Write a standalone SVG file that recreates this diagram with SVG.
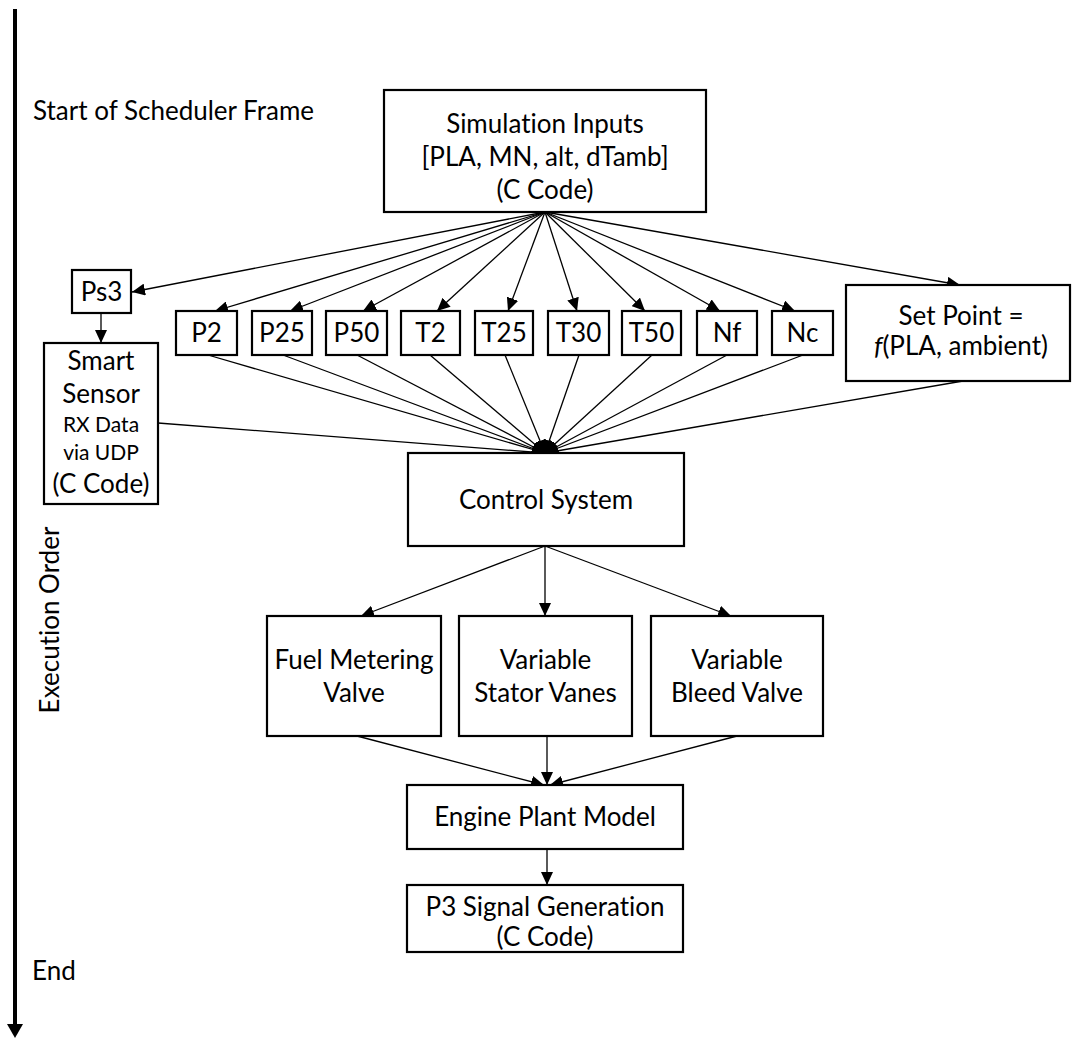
<svg xmlns="http://www.w3.org/2000/svg" width="1074" height="1038" viewBox="0 0 1074 1038">
  <defs>
    <marker id="arrow" viewBox="0 0 13 12" markerWidth="13" markerHeight="12" refX="13" refY="6" orient="auto" markerUnits="userSpaceOnUse">
      <path d="M0,0 L13,6 L0,12 z" fill="#000"/>
    </marker>
    <style>
      .box { fill: #fff; stroke: #000; stroke-width: 2.2; }
      .wire { fill: none; stroke: #000; stroke-width: 1.3; }
      .arr { marker-end: url(#arrow); }
      text { font-family: Lato, "Open Sans", "Liberation Sans", sans-serif; font-size: 26px; fill: #000; font-variant-ligatures: none; }
      .c { text-anchor: middle; }
      .small { font-size: 21px; }
    </style>
  </defs>

  <rect width="1074" height="1038" fill="#fff"/>

  <!-- execution timeline -->
  <g id="timeline">
    <line x1="15" y1="9" x2="15" y2="1026" stroke="#000" stroke-width="4"/>
    <polygon points="7,1024 23,1024 15,1038" fill="#000"/>
    <text x="33" y="120">Start of Scheduler Frame</text>
    <text class="c" transform="translate(59,620) rotate(-90)">Execution Order</text>
    <text x="32" y="980">End</text>
  </g>

  <!-- connectors -->
  <g id="connectors">
    <!-- simulation inputs fan-out -->
    <line class="wire arr" x1="545" y1="212" x2="132" y2="292"/>
    <line class="wire arr" x1="545" y1="212" x2="215" y2="311"/>
    <line class="wire arr" x1="545" y1="212" x2="290" y2="311"/>
    <line class="wire arr" x1="545" y1="212" x2="363" y2="311"/>
    <line class="wire arr" x1="545" y1="212" x2="437" y2="311"/>
    <line class="wire arr" x1="545" y1="212" x2="508" y2="311"/>
    <line class="wire arr" x1="545" y1="212" x2="577" y2="311"/>
    <line class="wire arr" x1="545" y1="212" x2="645" y2="311"/>
    <line class="wire arr" x1="545" y1="212" x2="720" y2="311"/>
    <line class="wire arr" x1="545" y1="212" x2="795" y2="311"/>
    <line class="wire arr" x1="545" y1="212" x2="960" y2="285"/>
    <!-- sensor chain -->
    <line class="wire arr" x1="101" y1="313" x2="101" y2="343"/>
    <!-- signals into control system -->
    <line class="wire arr" x1="158" y1="423" x2="545" y2="453"/>
    <line class="wire arr" x1="208" y1="355" x2="545" y2="453"/>
    <line class="wire arr" x1="283" y1="355" x2="545" y2="453"/>
    <line class="wire arr" x1="357" y1="355" x2="545" y2="453"/>
    <line class="wire arr" x1="430" y1="355" x2="545" y2="453"/>
    <line class="wire arr" x1="505" y1="355" x2="545" y2="453"/>
    <line class="wire arr" x1="579" y1="355" x2="545" y2="453"/>
    <line class="wire arr" x1="652" y1="355" x2="545" y2="453"/>
    <line class="wire arr" x1="727" y1="355" x2="545" y2="453"/>
    <line class="wire arr" x1="803" y1="355" x2="545" y2="453"/>
    <line class="wire arr" x1="963" y1="381" x2="545" y2="453"/>
    <!-- control system to actuators -->
    <line class="wire arr" x1="545" y1="546" x2="361" y2="616"/>
    <line class="wire arr" x1="545" y1="546" x2="545" y2="616"/>
    <line class="wire arr" x1="545" y1="546" x2="731" y2="616"/>
    <!-- actuators to plant -->
    <line class="wire arr" x1="357" y1="736" x2="544" y2="785"/>
    <line class="wire arr" x1="547" y1="736" x2="547" y2="785"/>
    <line class="wire arr" x1="737" y1="736" x2="550" y2="785"/>
    <!-- plant to signal generation -->
    <line class="wire arr" x1="547" y1="849" x2="547" y2="885"/>
  </g>

  <g id="sim-inputs">
    <rect class="box" x="384" y="90" width="322" height="122"/>
    <text class="c" x="545" y="133">Simulation Inputs</text>
    <text class="c" x="545" y="166">[PLA, MN, alt, dTamb]</text>
    <text class="c" x="545" y="199">(C Code)</text>
  </g>

  <g id="ps3">
    <rect class="box" x="72" y="270" width="59" height="43"/>
    <text class="c" x="101.5" y="301">Ps3</text>
  </g>

  <g id="smart-sensor">
    <rect class="box" x="44" y="343" width="114" height="161"/>
    <text class="c" x="101" y="370">Smart</text>
    <text class="c" x="101" y="403">Sensor</text>
    <text class="c small" x="101" y="432">RX Data</text>
    <text class="c small" x="101" y="460">via UDP</text>
    <text class="c" x="101" y="493">(C Code)</text>
  </g>

  <g id="p2"><rect class="box" x="176" y="311" width="61" height="44"/><text class="c" x="206.5" y="342">P2</text></g>
  <g id="p25"><rect class="box" x="252" y="311" width="60" height="44"/><text class="c" x="282" y="342">P25</text></g>
  <g id="p50"><rect class="box" x="326" y="311" width="61" height="44"/><text class="c" x="356.5" y="342">P50</text></g>
  <g id="t2"><rect class="box" x="401" y="311" width="59" height="44"/><text class="c" x="430.5" y="342">T2</text></g>
  <g id="t25"><rect class="box" x="475" y="311" width="58" height="44"/><text class="c" x="504" y="342">T25</text></g>
  <g id="t30"><rect class="box" x="548" y="311" width="61" height="44"/><text class="c" x="578.5" y="342">T30</text></g>
  <g id="t50"><rect class="box" x="622" y="311" width="59" height="44"/><text class="c" x="651.5" y="342">T50</text></g>
  <g id="nf"><rect class="box" x="697" y="311" width="60" height="44"/><text class="c" x="727" y="342">Nf</text></g>
  <g id="nc"><rect class="box" x="772" y="311" width="61" height="44"/><text class="c" x="802.5" y="342">Nc</text></g>

  <g id="set-point">
    <rect class="box" x="846" y="285" width="224" height="96"/>
    <text class="c" x="961" y="325">Set Point =</text>
    <text class="c" x="961" y="355"><tspan font-style="italic">f</tspan>(PLA, ambient)</text>
  </g>

  <g id="control-system">
    <rect class="box" x="408" y="453" width="276" height="93"/>
    <text class="c" x="546" y="509">Control System</text>
  </g>

  <g id="fuel-metering-valve">
    <rect class="box" x="267" y="616" width="174" height="120"/>
    <text class="c" x="354" y="669">Fuel Metering</text>
    <text class="c" x="354" y="702">Valve</text>
  </g>

  <g id="variable-stator-vanes">
    <rect class="box" x="459" y="616" width="173" height="120"/>
    <text class="c" x="545.5" y="669">Variable</text>
    <text class="c" x="545.5" y="702">Stator Vanes</text>
  </g>

  <g id="variable-bleed-valve">
    <rect class="box" x="651" y="616" width="172" height="120"/>
    <text class="c" x="737" y="669">Variable</text>
    <text class="c" x="737" y="702">Bleed Valve</text>
  </g>

  <g id="engine-plant-model">
    <rect class="box" x="407" y="785" width="276" height="64"/>
    <text class="c" x="545" y="826">Engine Plant Model</text>
  </g>

  <g id="p3-signal-generation">
    <rect class="box" x="407" y="885" width="276" height="67"/>
    <text class="c" x="545" y="916">P3 Signal Generation</text>
    <text class="c" x="545" y="946">(C Code)</text>
  </g>
</svg>
